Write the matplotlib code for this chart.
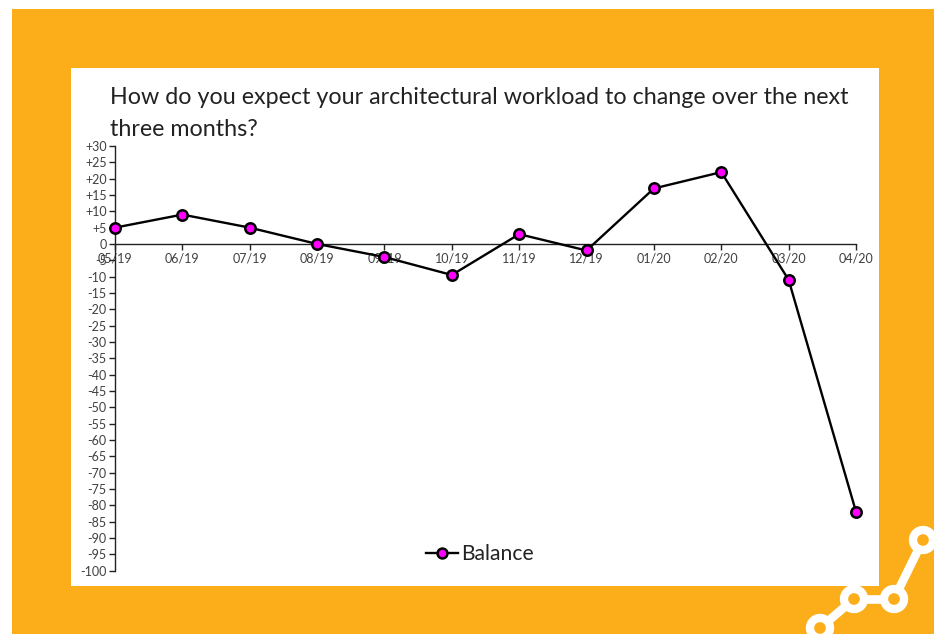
import matplotlib
matplotlib.use("Agg")
import matplotlib.pyplot as plt
from matplotlib.patches import Rectangle, Circle
from matplotlib.transforms import Affine2D

months = ["05/19", "06/19", "07/19", "08/19", "09/19", "10/19", "11/19", "12/19", "01/20", "02/20", "03/20", "04/20"]
balance = [5, 9, 5, 0, -4, -9.5, 3, -2, 17, 22, -11, -82]
y_ticks = list(range(-100, 31, 5))
title = "How do you expect your architectural workload to change over the next\nthree months?"
series_name = "Balance"

W, H = 938, 634
plt.rcParams["font.family"] = ["Lato", "DejaVu Sans"]
fig = plt.figure(figsize=(W / 100, H / 100), dpi=100, facecolor="white")

px = Affine2D().scale(1, -1).translate(0, H) + Affine2D().scale(1)
ORANGE = "#FCAE1A"
fig.add_artist(Rectangle((12, 9), 922, 625, transform=px, facecolor=ORANGE, edgecolor="none", zorder=0))
fig.add_artist(Rectangle((70.5, 68), 808.5, 518, transform=px, facecolor="white", edgecolor="none", zorder=1))

clip = Rectangle((12, 9), 922, 625, transform=px)
logo = [(820, 628), (854, 599), (894, 599), (923, 540)]
for (x0, y0), (x1, y1) in zip(logo[:-1], logo[1:]):
    ln = plt.Line2D([x0, x1], [y0, y1], transform=px, color="white", lw=6.2, zorder=1.5)
    ln.set_clip_path(clip)
    fig.add_artist(ln)
for c in logo:
    circ = Circle(c, 10, transform=px, facecolor=ORANGE, edgecolor="white", linewidth=6.0, zorder=1.6)
    circ.set_clip_path(clip)
    fig.add_artist(circ)

left, right, top, bottom = 115, 856, 146, 570.5
ax = fig.add_axes([left / W, 1 - bottom / H, (right - left) / W, (bottom - top) / H], zorder=3)
ax.patch.set_alpha(0)
ax.set_xlim(0, len(months) - 1)
ax.set_ylim(-100, 30)
ax.plot(range(len(months)), balance, color="black", lw=1.7, marker="o", ms=7.5, mfc="#FF00FF",
        mec="black", mew=1.8, label=series_name, clip_on=False, zorder=5)

for s in ("top", "right"):
    ax.spines[s].set_visible(False)
ax.spines["bottom"].set_position(("data", 0))
for s in ("left", "bottom"):
    ax.spines[s].set_linewidth(1.0)
    ax.spines[s].set_color("#222222")
ax.set_xticks(range(len(months)), months)
ax.set_yticks(y_ticks, [f"+{v}" if v > 0 else str(v) for v in y_ticks])
ax.tick_params(axis="both", direction="out", length=4, width=1.0, color="#222222",
               labelsize=9, labelcolor="#404040", pad=2)
ax.tick_params(axis="x", pad=2)

fig.text(110 / W, 1 - 135.5 / H, title, fontsize=16.75, color="#222222", ha="left", va="baseline",
         linespacing=1.64, zorder=4)

leg = ax.legend(loc="center", bbox_to_anchor=(480 / W, 1 - 554 / H), bbox_transform=fig.transFigure,
                frameon=False, fontsize=15.2, handlelength=1.55, handletextpad=0.15, labelcolor="#222222",
                markerscale=0.95)

fig.savefig("out.png", dpi=100, facecolor="white")
